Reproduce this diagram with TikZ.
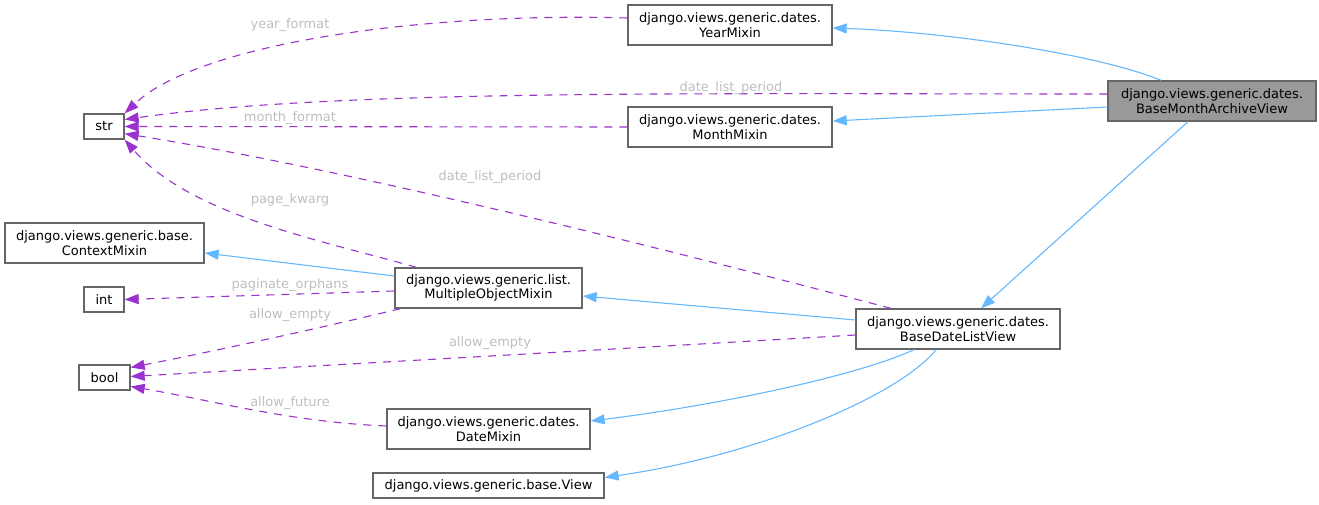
\documentclass[tikz,border=0pt]{standalone}
\usepackage{fontspec}
\setmainfont{DejaVu Sans}
\usetikzlibrary{arrows.meta,calc}
\definecolor{nodeborder}{HTML}{666666}
\definecolor{rootfill}{HTML}{999999}
\definecolor{inhblue}{HTML}{63B8FF}
\definecolor{usepurple}{HTML}{9A32CD}
\definecolor{lblgray}{HTML}{BEBEBE}
\newcommand{\dxfont}{\fontsize{13}{14.5}\selectfont}
\tikzset{
  cls/.style={draw=nodeborder, line width=1.3pt, fill=white, inner sep=0pt, align=center, font=\dxfont, text=black},
  inh/.style={draw=inhblue, line width=1.1pt, -{Triangle[length=14pt,width=10pt]}},
  use/.style={draw=usepurple, line width=1.1pt, dash pattern=on 8pt off 7pt, -{Triangle[length=14pt,width=10pt]}},
  lbl/.style={text=lblgray, font=\dxfont, inner sep=0pt}
}
\begin{document}
\begin{tikzpicture}[x=1pt,y=-1pt]
\useasboundingbox (0,0) rectangle (1319,505);
% nodes
\node[cls, minimum width=204, minimum height=40] (year) at (730,25) {django.views.generic.dates.\\YearMixin};
\node[cls, fill=rootfill, minimum width=208, minimum height=40] (bmav) at (1212,101) {django.views.generic.dates.\\BaseMonthArchiveView};
\node[cls, minimum width=40, minimum height=25] (str) at (104,126.5) {str};
\node[cls, minimum width=204, minimum height=40] (month) at (730,127) {django.views.generic.dates.\\MonthMixin};
\node[cls, minimum width=199, minimum height=40] (ctx) at (104.5,243) {django.views.generic.base.\\ContextMixin};
\node[cls, minimum width=40, minimum height=25] (int) at (104,299.5) {int};
\node[cls, minimum width=187, minimum height=40] (mom) at (488.5,288) {django.views.generic.list.\\MultipleObjectMixin};
\node[cls, minimum width=204, minimum height=40] (bdlv) at (958,329) {django.views.generic.dates.\\BaseDateListView};
\node[cls, minimum width=51, minimum height=25] (bool) at (104.5,377.5) {bool};
\node[cls, minimum width=203, minimum height=40] (date) at (488.5,429) {django.views.generic.dates.\\DateMixin};
\node[cls, minimum width=231, minimum height=25] (view) at (488.5,485.5) {django.views.generic.base.View};
% inheritance
\draw[inh] ($(bmav.north)+(-51,0)$) .. controls (1100,55) and (950,32) .. ($(year.east)+(0,3)$);
\draw[inh] ($(bmav.west)+(0,6)$) -- ($(month.east)+(0,-6)$);
\draw[inh] ($(bmav.south)+(-24,0)$) -- ($(bdlv.north)+(23,0)$);
\draw[inh] ($(bdlv.west)+(0,-9)$) -- ($(mom.east)+(0,8)$);
\draw[inh] ($(mom.west)+(0,-12)$) -- ($(ctx.east)+(0,10)$);
\draw[inh] ($(bdlv.south)+(-44,0)$) .. controls (860,375) and (720,405) .. ($(date.east)+(0,-8)$);
\draw[inh] ($(bdlv.south)+(-22,0)$) .. controls (900,395) and (760,455) .. ($(view.east)+(0,-8)$);
% usage
\draw[use] ($(year.west)+(0,-7)$) .. controls (430,12) and (200,42) .. (str.north east);
\draw[use] ($(bmav.west)+(0,-7)$) .. controls (700,94) and (340,89) .. ($(str.east)+(0,-7)$);
\draw[use] (month.west) -- (str.east);
\draw[use] ($(bdlv.north)+(-67,0)$) .. controls (650,245) and (350,170) .. ($(str.south east)+(0,-6)$);
\draw[use] ($(mom.north)+(-72,0)$) .. controls (320,240) and (190,215) .. (str.south east);
\draw[use] ($(mom.west)+(0,3)$) -- (int.east);
\draw[use] ($(mom.south)+(-88,0)$) .. controls (320,328) and (220,350) .. ($(bool.east)+(0,-10)$);
\draw[use] ($(bdlv.west)+(0,6)$) .. controls (600,350) and (330,365) .. ($(bool.east)+(0,-1)$);
\draw[use] ($(date.west)+(0,-3)$) .. controls (290,422) and (210,400) .. ($(bool.east)+(0,9)$);
% labels
\node[lbl] (lyf) at (290,25) {year\_format};
\node[lbl] (ldlp1) at (731,88) {date\_list\_period};
\node[lbl] (lmf) at (290,118) {month\_format};
\node[lbl] (ldlp2) at (490,177) {date\_list\_period};
\node[lbl] (lpk) at (290,200) {page\_kwarg};
\node[lbl] (lpo) at (290,285) {paginate\_orphans};
\node[lbl] (lae1) at (290,315) {allow\_empty};
\node[lbl] (lae2) at (490,343) {allow\_empty};
\node[lbl] (laf) at (290,403) {allow\_future};
\end{tikzpicture}
\end{document}
